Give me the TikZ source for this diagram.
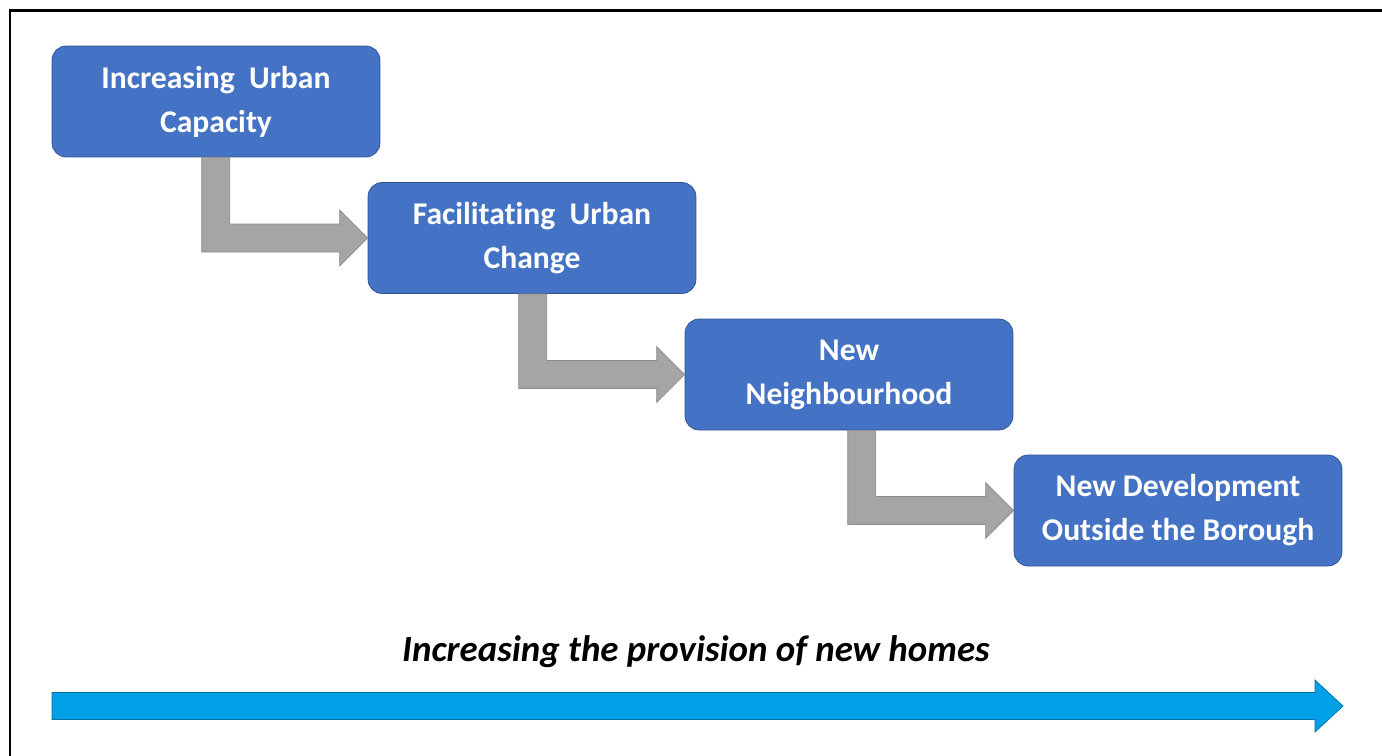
\documentclass[tikz,border=0pt]{standalone}
\usepackage{fontspec}
\setmainfont{Carlito}[Ligatures=NoCommon]
\usetikzlibrary{calc}
\definecolor{boxblue}{RGB}{68,114,196}
\definecolor{boxedge}{RGB}{47,82,143}
\definecolor{elbowgray}{RGB}{165,165,165}
\definecolor{elbowedge}{RGB}{140,140,140}
\definecolor{flowblue}{RGB}{0,160,230}
\tikzset{
  stage/.style={draw=boxedge, fill=boxblue, rounded corners=8pt, text=white,
    font=\bfseries\fontsize{18}{25}\selectfont, align=center,
    minimum width=6.56cm, minimum height=2.22cm, inner sep=0pt},
  elbow/.style={fill=elbowgray, draw=elbowedge, line width=0.4pt},
}
\newcommand{\elbowarrow}[3]{%
  \path (#1.south west) ++(#3,0) coordinate (#1-in);
  \draw[elbow] (#1-in) -- ++(28,0) |- ($(#2.west)+(-28,-14)$) -- ++(0,-14)
    -- (#2.west) -- ++(-28,28) -- ++(0,-14) -| (#1-in) -- cycle;
}
\begin{document}
\begin{tikzpicture}[x=0.02cm, y=-0.02cm]
  \useasboundingbox (0,0) rectangle (1382,755);
  \draw[line width=1.7pt] (10,760) -- (10,10) -- (1390,10);
  \node[stage] (capacity) at (216,101.5) {Increasing\ \ Urban\\Capacity};
  \node[stage] (change) at (532,238) {Facilitating\ \ Urban\\Change};
  \node[stage] (neighbourhood) at (849,374.5) {New\\Neighbourhood};
  \node[stage] (outside) at (1178,510.5) {New Development\\Outside the Borough};
  \elbowarrow{capacity}{change}{150}
  \elbowarrow{change}{neighbourhood}{151}
  \elbowarrow{neighbourhood}{outside}{163}
  \node[font=\bfseries\itshape\fontsize{21}{24}\selectfont] (homes) at (696,652) {Increasing the provision of new homes};
  \coordinate (flowstart) at (52,706);
  \coordinate (flowend) at (1343,706);
  \draw[fill=flowblue, draw=flowblue!70!black, line width=0.4pt] ($(flowstart)+(0,-13.5)$) -- ($(flowend)+(-28,-13.5)$) -- ++(0,-12.5)
    -- (flowend) -- ++(-28,26) -- ++(0,-12.5) -- ($(flowstart)+(0,13.5)$) -- cycle;
\end{tikzpicture}
\end{document}
